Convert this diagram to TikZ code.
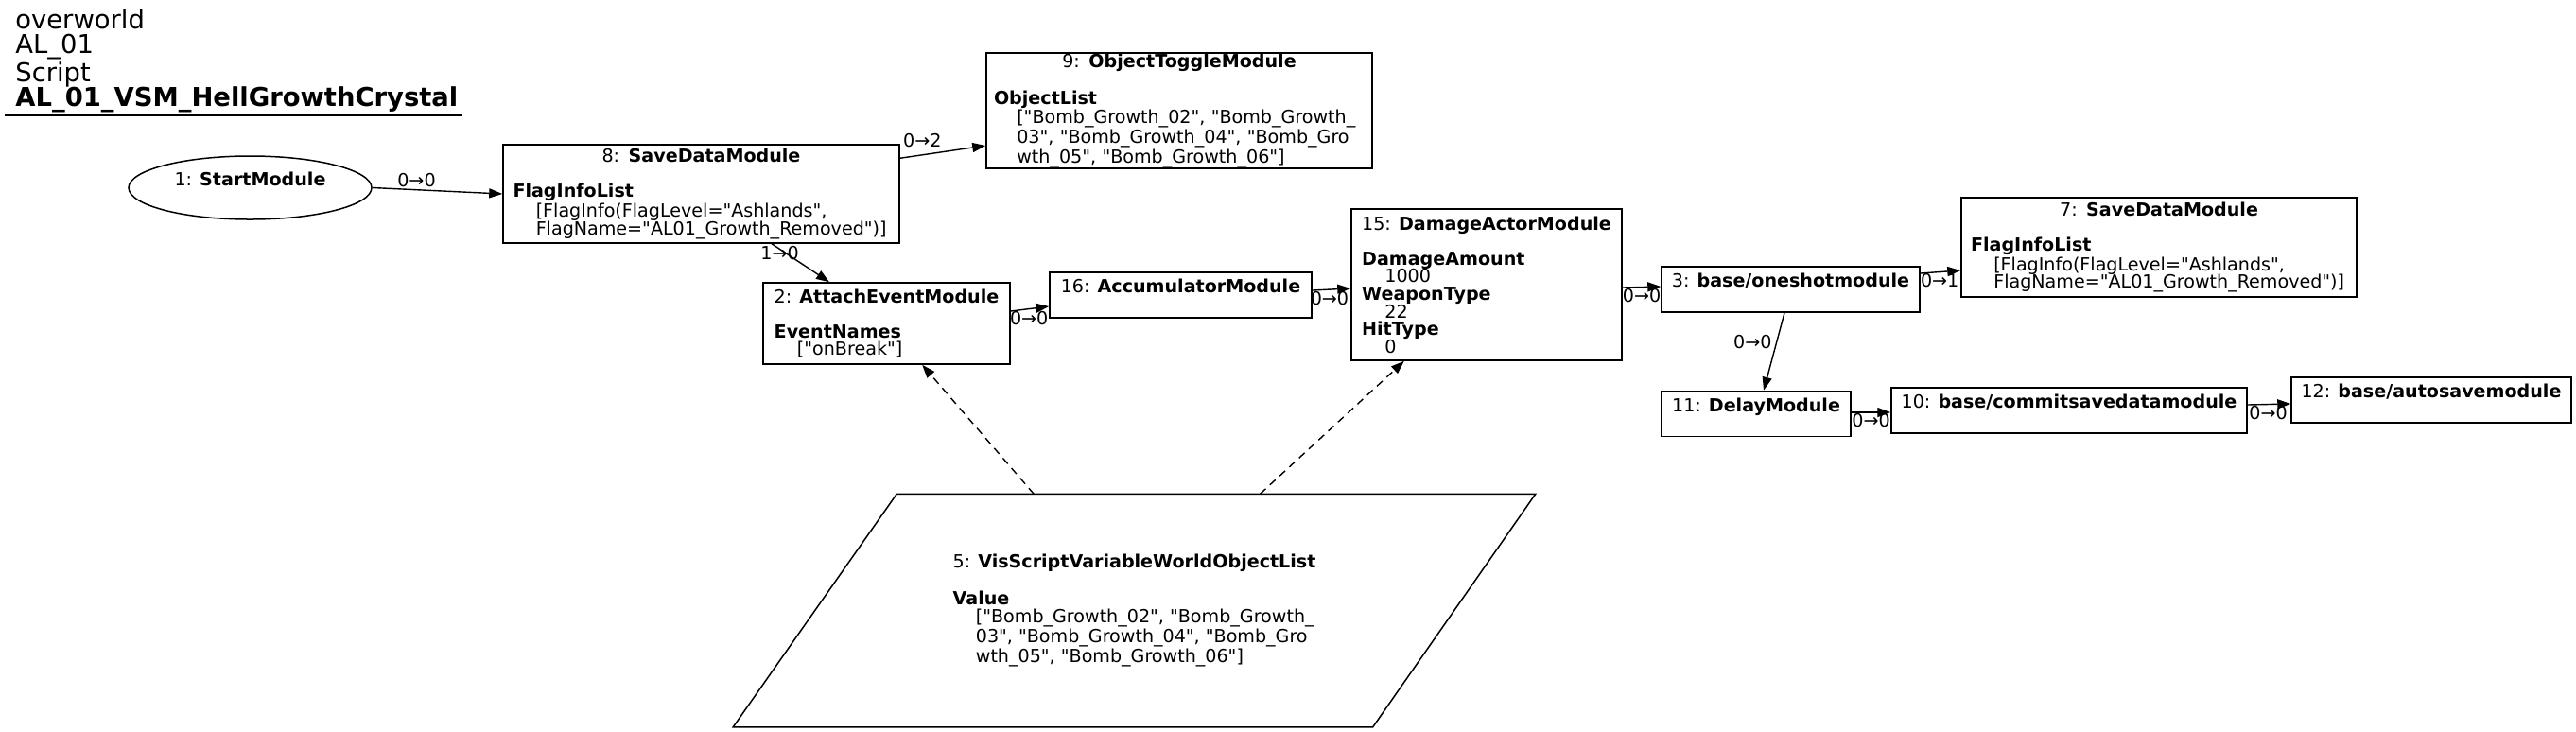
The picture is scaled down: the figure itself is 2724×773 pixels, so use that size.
\documentclass[tikz,border=0pt]{standalone}
\usepackage{fontspec}
\setmainfont{DejaVu Sans}[Ligatures=TeXOff]
\usepackage{tikz}
\usetikzlibrary{arrows.meta,shapes.geometric}
\newcommand{\subind}{\hspace*{1.27em}}
\newcommand{\ctitle}[1]{\makebox[\hsize]{#1}}

\begin{document}
\begin{tikzpicture}[x=0.5pt, y=-0.5pt,
  modline/.style={line width=0.75pt},
  modbox/.style={modline, draw, rectangle, align=left, inner sep=0pt, font=\fontsize{9.55}{9.3}\selectfont},
  flow/.style={-{Triangle[length=7pt,width=5pt]}, line width=0.7pt},
  link/.style={flow, dash pattern=on 4pt off 3pt},
  port/.style={font=\fontsize{9.55}{9.3}\selectfont, inner sep=0pt}]
  \useasboundingbox (0,0) rectangle (2724,773);

  % header
  \node[anchor=north west, align=left, inner sep=0pt, font=\fontsize{13.7}{13.35}\selectfont] (title) at (16,9)
    {overworld\\AL\_01\\Script\\\textbf{AL\_01\_VSM\_HellGrowthCrystal}};
  \draw[modline] (5,122) -- (489,122);

  % modules
  \node[modbox, ellipse, minimum width=128.5pt, minimum height=33.5pt] (n1) at (264.5,198.5) {1: \textbf{StartModule}\\ \mbox{}};
  \node[modbox, text width=199pt, minimum width=209.5pt, minimum height=52pt] (n8) at (741.5,205)
    {\ctitle{8: \textbf{SaveDataModule}}\\[9.3pt]\textbf{FlagInfoList}\\ \subind[FlagInfo(FlagLevel="Ashlands",\\ \subind FlagName="AL01\_Growth\_Removed")]};
  \node[modbox, text width=196pt, minimum width=204pt, minimum height=61pt] (n9) at (1247,117)
    {\ctitle{9: \textbf{ObjectToggleModule}}\\[9.3pt]\textbf{ObjectList}\\ \subind["Bomb\_Growth\_02", "Bomb\_Growth\_\\ \subind 03", "Bomb\_Growth\_04", "Bomb\_Gro\\ \subind wth\_05", "Bomb\_Growth\_06"]};
  \node[modbox, minimum width=130.5pt, minimum height=43pt] (n2) at (937.5,342)
    {2: \textbf{AttachEventModule}\\[9.3pt]\textbf{EventNames}\\ \subind["onBreak"]};
  \node[modbox, minimum width=143pt, minimum height=80pt] (n15) at (1572,301)
    {15: \textbf{DamageActorModule}\\[9.3pt]\textbf{DamageAmount}\\ \subind 1000\\ \textbf{WeaponType}\\ \subind 22\\ \textbf{HitType}\\ \subind 0};
  \node[modbox, text width=199pt, minimum width=209pt, minimum height=52.5pt] (n7) at (2283,261.5)
    {\ctitle{7: \textbf{SaveDataModule}}\\[9.3pt]\textbf{FlagInfoList}\\ \subind[FlagInfo(FlagLevel="Ashlands",\\ \subind FlagName="AL01\_Growth\_Removed")]};
  \foreach \id/\lab/\cx/\cy/\bw in {16/AccumulatorModule/1248.5/312/138.5, 3/{base/oneshotmodule}/1893.5/306/136.5,
      11/DelayModule/1857/437.5/100, 10/{base/commitsavedatamodule}/2188/434/188, 12/{base/autosavemodule}/2571/423/148} {
    \node[modbox, minimum width=\bw pt, minimum height=24pt] (n\id) at (\cx,\cy) {\id: \textbf{\lab}\\ \mbox{}};
  }

  % variable
  \node[modbox, draw=none, minimum width=423.5pt, minimum height=122.5pt] (n5) at (1199.5,645.5)
    {5: \textbf{VisScriptVariableWorldObjectList}\\[9.3pt]\textbf{Value}\\ \subind["Bomb\_Growth\_02", "Bomb\_Growth\_\\ \subind 03", "Bomb\_Growth\_04", "Bomb\_Gro\\ \subind wth\_05", "Bomb\_Growth\_06"]};
  \draw[modline] ([xshift=86.5pt]n5.north west) -- (n5.north east) -- ([xshift=-86pt]n5.south east) -- (n5.south west) -- cycle;

  % connections
  \draw[flow] (n1.east) -- node[port, pos=0.34, yshift=5pt] {0→0} (n8.west);
  \draw[flow] ([yshift=-7.5pt]n8.north east) -- node[port, pos=0.26, yshift=7.7pt] {0→2} ([yshift=-18.5pt]n9.west);
  \draw[flow] ([xshift=37.25pt]n8.south) -- node[port, pos=0.24, xshift=-3pt] {1→0} ([xshift=-30.25pt]n2.north);
  \draw[flow] ([yshift=6.5pt]n2.east) -- node[port, pos=0.48, yshift=-5pt] {0→0} ([yshift=-6pt]n16.west);
  \draw[flow] ([yshift=2.5pt]n16.east) -- node[port, pos=0.45, yshift=-4.5pt] {0→0} ([yshift=-2pt]n15.west);
  \draw[flow] ([yshift=-1.5pt]n15.east) -- node[port, pos=0.5, yshift=-4.75pt] {0→0} ([yshift=1.5pt]n3.west);
  \draw[flow] ([yshift=8.5pt]n3.east) -- node[port, pos=0.48, yshift=-4.5pt] {0→1} ([yshift=-12.25pt]n7.west);
  \draw[flow] ([xshift=-3.25pt]n3.south) -- node[port, pos=0.37, xshift=-12.75pt] {0→0} ([xshift=4pt]n11.north);
  \draw[flow] ([yshift=0.75pt]n11.east) -- node[port, pos=0.5, yshift=-4.5pt] {0→0} ([yshift=-1pt]n10.west);
  \draw[flow] ([yshift=3pt]n10.east) -- node[port, pos=0.48, yshift=-4.5pt] {0→0} ([yshift=-2pt]n12.west);
  \draw[link] (n5) -- (n2);
  \draw[link] (n5) -- (n15);
\end{tikzpicture}
\end{document}
